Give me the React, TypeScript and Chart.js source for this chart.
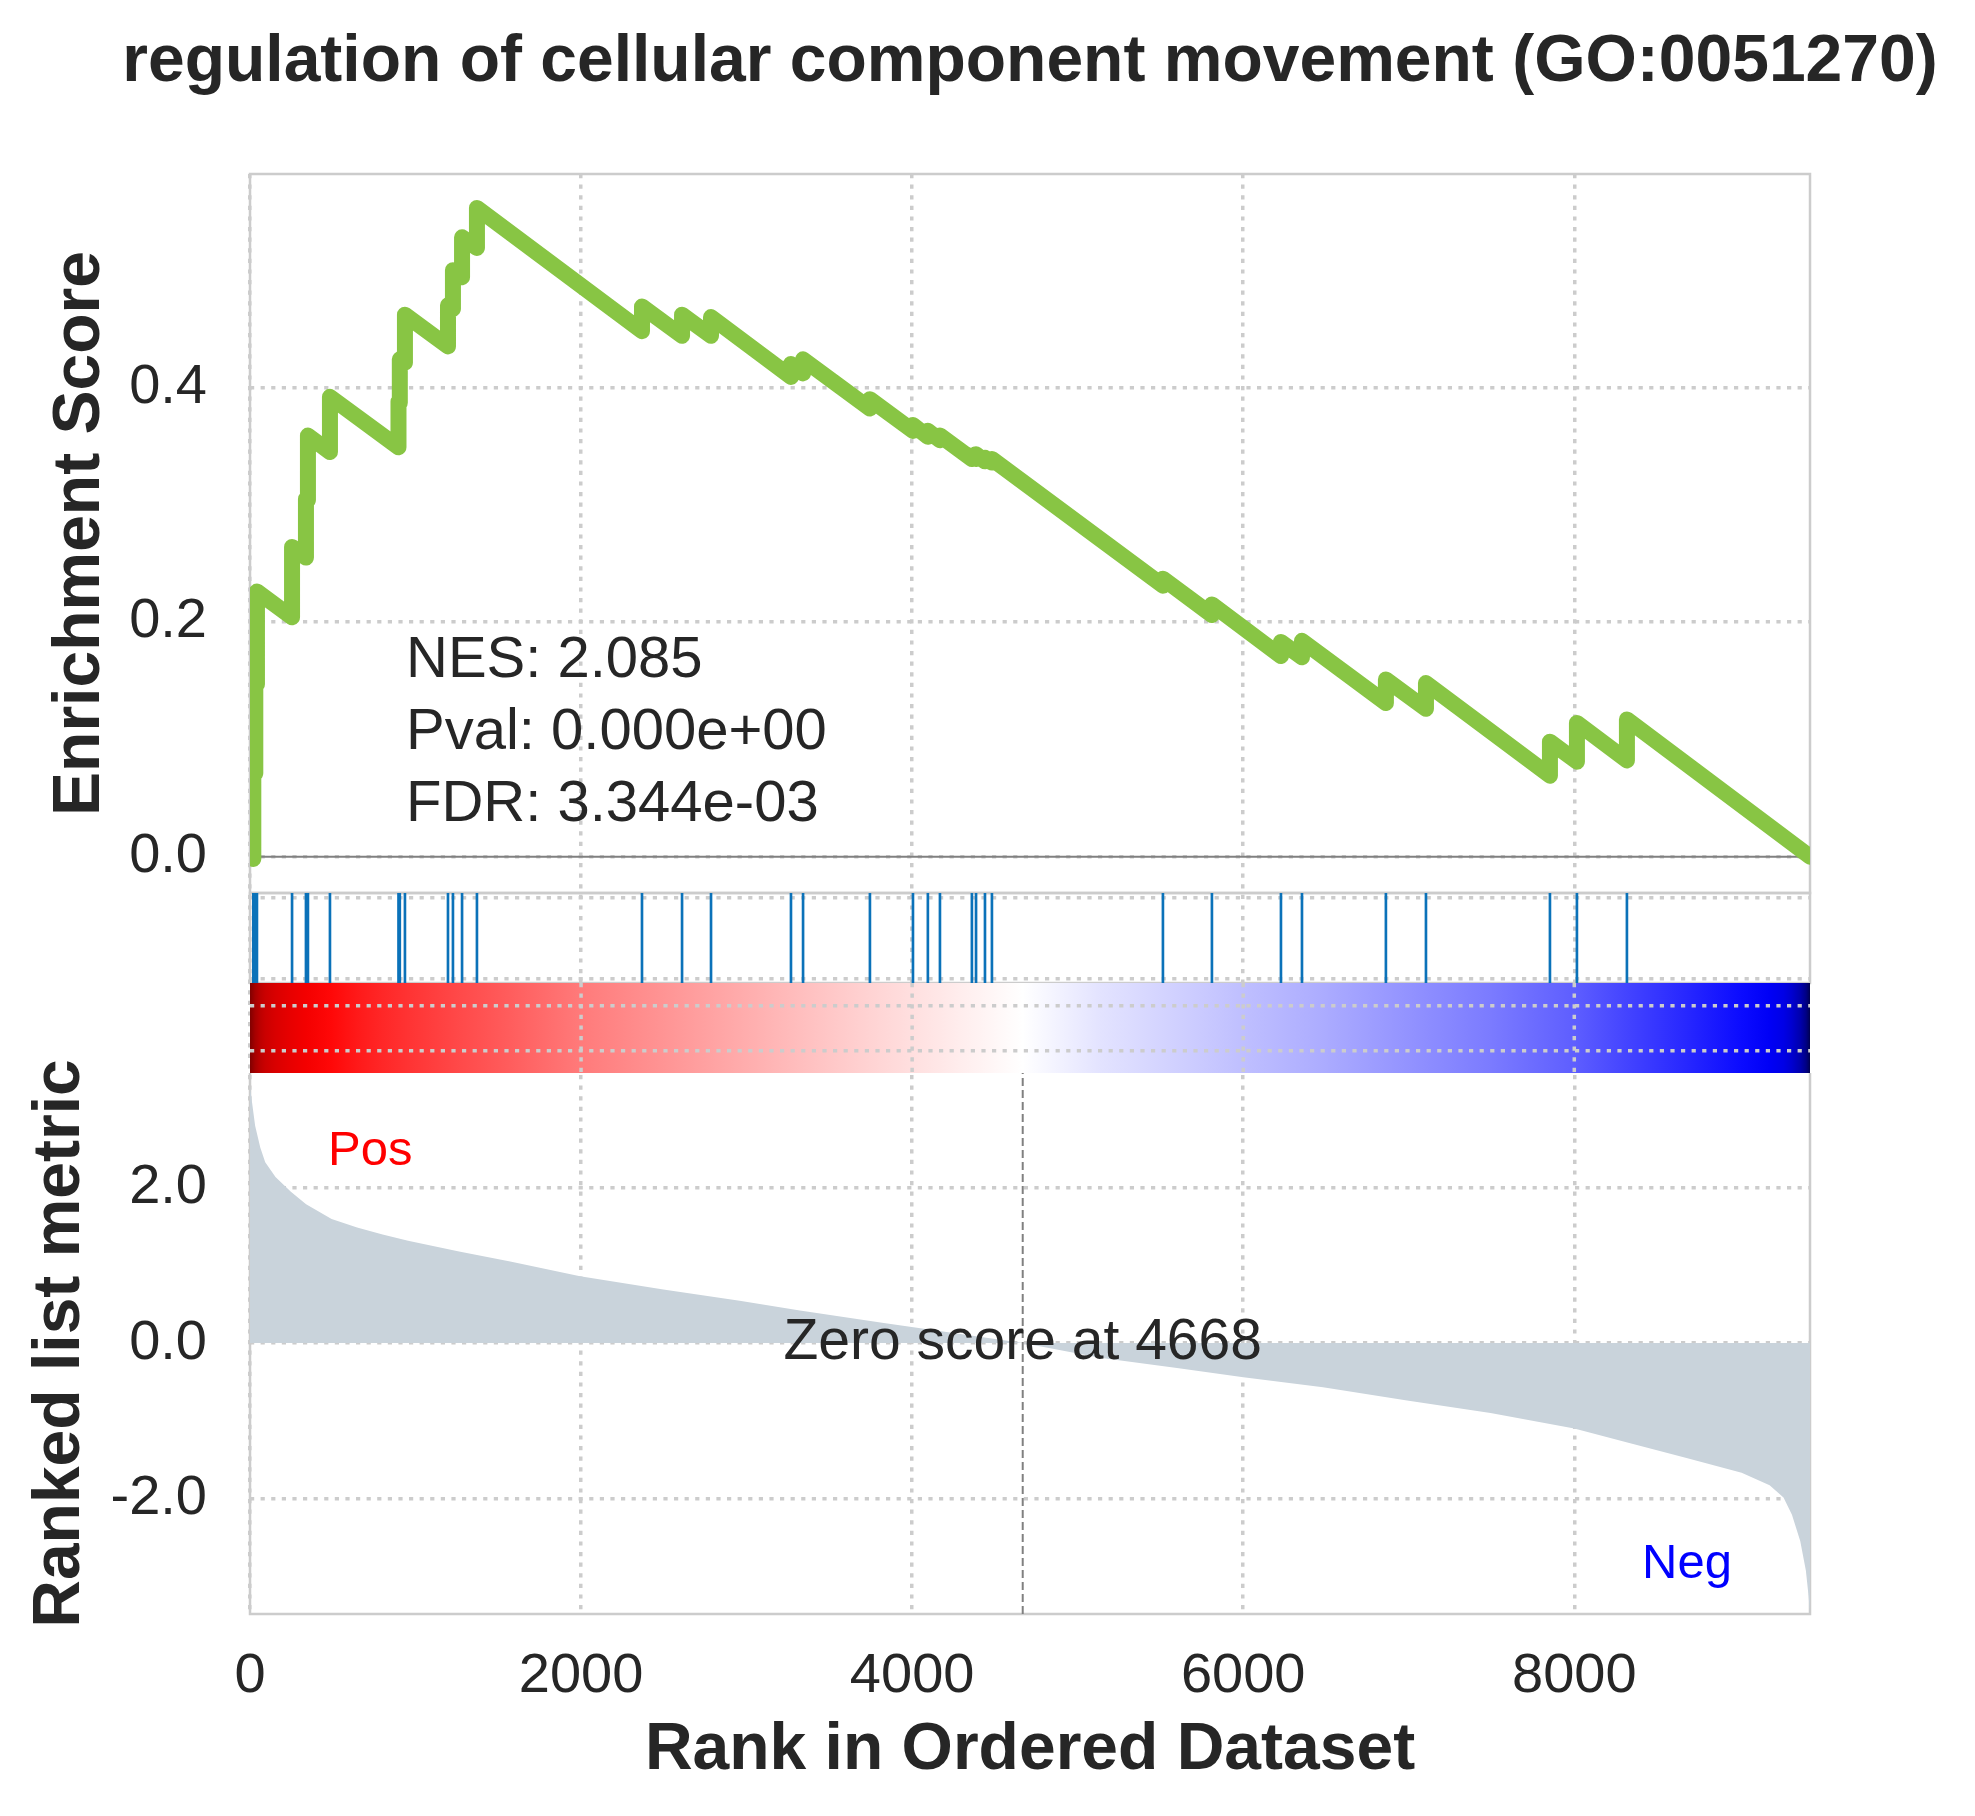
import { useEffect, useRef } from "react"
import { Chart, registerables } from "chart.js"

Chart.register(...registerables)

// ---- data ----
const title = "regulation of cellular component movement (GO:0051270)"
const nRanks = 9424
const zeroScoreAt = 4668
const statLines = ["NES: 2.085", "Pval: 0.000e+00", "FDR: 3.344e-03"]

// gene-set hits and the running enrichment score just before / after each hit
const hitRanks = [
	20, 32, 42, 254, 338, 350, 483, 897, 905, 936, 1196, 1226, 1281, 1371, 2368, 2610, 2785, 3268, 3341, 3745, 4005, 4095,
	4168, 4361, 4386, 4440, 4482, 5515, 5811, 6228, 6355, 6862, 7104, 7853, 8016, 8318
]
const esBefore = [
	-0.002, 0.071, 0.147, 0.204, 0.255, 0.304, 0.345, 0.349, 0.387, 0.421, 0.435, 0.467, 0.494, 0.519, 0.448, 0.444, 0.444,
	0.409, 0.412, 0.382, 0.363, 0.358, 0.355, 0.339, 0.339, 0.337, 0.336, 0.231, 0.206, 0.171, 0.17, 0.131, 0.126, 0.069, 0.081,
	0.082
]
const esAfter = [
	0.072, 0.148, 0.226, 0.264, 0.305, 0.359, 0.392, 0.388, 0.424, 0.462, 0.47, 0.5, 0.528, 0.553, 0.469, 0.462, 0.46, 0.42,
	0.424, 0.39, 0.368, 0.363, 0.359, 0.342, 0.343, 0.34, 0.339, 0.237, 0.215, 0.183, 0.184, 0.151, 0.148, 0.098, 0.114, 0.117
]
const esStart = 0
const esEnd = 0

// ranked list metric
const metricRanks = [
	0, 31, 62, 92, 154, 247, 339, 493, 647, 801, 955, 1263, 1572, 1994, 2497, 2958, 3322, 3829, 4250, 4668, 5135, 5600, 6001,
	6482, 6990, 7494, 8000, 8338, 8678, 9011, 9180, 9264, 9315, 9365, 9399, 9415, 9424
]
const metricValues = [
	3.3, 2.8, 2.52, 2.33, 2.14, 1.95, 1.79, 1.6, 1.49, 1.4, 1.32, 1.18, 1.05, 0.86, 0.69, 0.545, 0.42, 0.26, 0.13, 0.0, -0.19,
	-0.32, -0.44, -0.57, -0.74, -0.9, -1.1, -1.29, -1.48, -1.67, -1.83, -1.99, -2.21, -2.55, -2.93, -3.25, -3.49
]

const xTicks = [0, 2000, 4000, 6000, 8000]
const esTicks = [0, 0.2, 0.4]
const metricTicks = [-2, 0, 2]
const hitGrid = [0.05, 0.95]
const barGrid = [0.25, 0.75]

const esMin = -0.031
const esMax = 0.582
const metricMin = -3.49
const metricMax = 3.48

// ---- style ----
const FONT = "'Liberation Sans', Arial, Helvetica, sans-serif"
const INK = "#262626"
const GRID = "#cccccc"
const GRID_W = 3.5
const GRID_DASH = [4.2, 6.4]

const seismicStops = [
	[0, 0, 0, 0.3],
	[0.25, 0, 0, 1],
	[0.5, 1, 1, 1],
	[0.75, 1, 0, 0],
	[1, 0.5, 0, 0]
]

function seismic(v: number) {
	const lo = Math.min(...metricValues)
	const hi = Math.max(...metricValues)
	let t = v >= 0 ? 0.5 + (0.5 * v) / hi : 0.5 - (0.5 * v) / lo
	t = Math.min(1, Math.max(0, t))
	for (let i = 1; i < seismicStops.length; i++) {
		const a = seismicStops[i - 1]
		const b = seismicStops[i]
		if (t <= b[0]) {
			const f = (t - a[0]) / (b[0] - a[0])
			const c = [1, 2, 3].map((k) => Math.round(255 * (a[k] + (b[k] - a[k]) * f)))
			return `rgb(${c[0]},${c[1]},${c[2]})`
		}
	}
	return "rgb(128,0,0)"
}

const esPoints = [{ x: 0, y: esStart }]
hitRanks.forEach((r, i) => {
	esPoints.push({ x: r, y: esBefore[i] })
	esPoints.push({ x: r, y: esAfter[i] })
})
esPoints.push({ x: nRanks, y: esEnd })

const fixTicks = (values: number[]) => (scale: any) => {
	scale.ticks = values.map((value) => ({ value }))
}

const leftAxis = {
	position: "left",
	stack: "gsea",
	afterFit: (s: any) => {
		s.width = 250
	},
	border: { display: false, dash: GRID_DASH },
	grid: { color: GRID, lineWidth: GRID_W, drawTicks: false }
}

const panelFrames = {
	id: "panelFrames",
	beforeDatasetsDraw(chart: any) {
		const { ctx, chartArea: a, scales } = chart
		ctx.save()
		ctx.strokeStyle = GRID
		ctx.lineWidth = 2.5
		for (const id of ["yES", "yHits"]) {
			const s = scales[id]
			ctx.strokeRect(a.left, s.top, a.width, s.height)
		}
		const r = scales.yRank
		ctx.beginPath()
		ctx.moveTo(a.left, r.top)
		ctx.lineTo(a.left, r.bottom)
		ctx.lineTo(a.right, r.bottom)
		ctx.lineTo(a.right, r.top)
		ctx.stroke()
		ctx.restore()
	},
	afterDatasetsDraw(chart: any) {
		// vertical grid lines sit on top of the colour bar
		const { ctx, scales } = chart
		const cb = scales.yBar
		ctx.save()
		ctx.strokeStyle = GRID
		ctx.lineWidth = GRID_W
		ctx.setLineDash(GRID_DASH)
		for (const v of xTicks) {
			if (v <= 0) continue
			const px = scales.x.getPixelForValue(v)
			ctx.beginPath()
			ctx.moveTo(px, cb.top)
			ctx.lineTo(px, cb.bottom)
			ctx.stroke()
		}
		ctx.restore()
	}
}

const gseaText = {
	id: "gseaText",
	afterDraw(chart: any) {
		const { ctx, chartArea: a, scales } = chart
		const es = scales.yES
		const rk = scales.yRank
		ctx.save()
		ctx.textBaseline = "alphabetic"

		// title, centred over the plotting area and allowed to overflow it
		ctx.fillStyle = INK
		ctx.textAlign = "center"
		ctx.font = `bold 66px ${FONT}`
		ctx.fillText(title, (a.left + a.right) / 2, a.top - 93)

		ctx.textAlign = "left"
		ctx.font = `58px ${FONT}`
		statLines.forEach((s, i) => {
			ctx.fillText(s, a.left + 0.1 * a.width, es.bottom - (0.3 - 0.1 * i) * es.height)
		})

		ctx.font = `57px ${FONT}`
		ctx.textAlign = "center"
		ctx.fillText(`Zero score at ${zeroScoreAt}`, scales.x.getPixelForValue(zeroScoreAt), rk.top + 0.528 * rk.height)

		ctx.font = `49px ${FONT}`
		ctx.fillStyle = "red"
		ctx.textAlign = "left"
		ctx.fillText("Pos", a.left + 0.05 * a.width, rk.top + 0.17 * rk.height)
		ctx.fillStyle = "blue"
		ctx.textAlign = "right"
		ctx.fillText("Neg", a.left + 0.95 * a.width, rk.bottom - 0.067 * rk.height)

		ctx.fillStyle = INK
		ctx.font = `bold 66px ${FONT}`
		ctx.textAlign = "center"
		const vTitle = (text: string, bx: number, cy: number) => {
			ctx.save()
			ctx.translate(bx, cy)
			ctx.rotate(-Math.PI / 2)
			ctx.fillText(text, 0, 0)
			ctx.restore()
		}
		vTitle("Enrichment Score", a.left - 151, (es.top + es.bottom) / 2)
		vTitle("Ranked list metric", a.left - 171, (rk.top + rk.bottom) / 2)
		ctx.restore()
	}
}

export default function App() {
	const canvasRef = useRef<HTMLCanvasElement>(null)

	useEffect(() => {
		const ctx = canvasRef.current?.getContext("2d") as CanvasRenderingContext2D
		const chart = new Chart(ctx, {
			type: "line",
			data: {
				datasets: [
					{
						label: "Enrichment score",
						data: esPoints,
						yAxisID: "yES",
						borderColor: "#88C544",
						borderWidth: 16,
						borderCapStyle: "round",
						borderJoinStyle: "round",
						pointRadius: 0,
						tension: 0,
						clip: 0
					},
					{
						label: "zero",
						data: [
							{ x: 0, y: 0 },
							{ x: nRanks, y: 0 }
						],
						yAxisID: "yES",
						borderColor: "#808080",
						borderWidth: 2,
						pointRadius: 0
					},
					{
						type: "bar",
						label: "hits",
						data: hitRanks.map((r) => ({ x: r, y: [0, 1] })),
						yAxisID: "yHits",
						backgroundColor: "#0b72b9",
						barThickness: 2,
						grouped: false
					},
					{
						label: "colour bar",
						data: metricRanks.map((r) => ({ x: r, y: 1 })),
						yAxisID: "yBar",
						borderColor: "rgba(0,0,0,0)",
						borderWidth: 0,
						pointRadius: 0,
						fill: "start",
						backgroundColor: (c: any) => {
							const ch = c.chart
							const area = ch.chartArea
							if (!area) return "rgba(0,0,0,0)"
							const xs = ch.scales.x
							const g = ch.ctx.createLinearGradient(area.left, 0, area.right, 0)
							metricRanks.forEach((r, i) => {
								const p = (xs.getPixelForValue(r) - area.left) / area.width
								g.addColorStop(Math.min(1, Math.max(0, p)), seismic(metricValues[i]))
							})
							return g
						}
					},
					{
						label: "zero score",
						data: [
							{ x: zeroScoreAt, y: metricMin },
							{ x: zeroScoreAt, y: metricMax }
						],
						yAxisID: "yRank",
						borderColor: "#808080",
						borderWidth: 2,
						borderDash: [8, 4],
						pointRadius: 0
					},
					{
						label: "metric",
						data: metricRanks.map((r, i) => ({ x: r, y: metricValues[i] })),
						yAxisID: "yRank",
						borderColor: "rgba(0,0,0,0)",
						borderWidth: 0,
						pointRadius: 0,
						tension: 0,
						fill: "origin",
						backgroundColor: "#C9D3DB"
					}
				]
			},
			options: {
				animation: false,
				responsive: true,
				maintainAspectRatio: false,
				events: [],
				layout: { padding: { left: 0, right: 165, top: 174, bottom: 0 } },
				plugins: {
					legend: { display: false },
					tooltip: { enabled: false },
					title: { display: false }
				},
				scales: {
					x: {
						type: "linear",
						min: 0,
						max: nRanks,
						offset: false,
						afterBuildTicks: fixTicks(xTicks),
						afterFit: (s: any) => {
							s.height = 202
						},
						border: { display: false, dash: GRID_DASH },
						grid: { color: GRID, lineWidth: GRID_W, drawTicks: false, offset: false },
						ticks: {
							color: INK,
							font: { family: FONT, size: 56 },
							padding: 29,
							maxRotation: 0,
							autoSkip: false,
							callback: (v: any) => String(v)
						},
						title: {
							display: true,
							text: "Rank in Ordered Dataset",
							color: INK,
							font: { family: FONT, size: 66, weight: "bold", lineHeight: 1.2 },
							padding: { top: 0, bottom: 26 }
						}
					},
					yRank: {
						...leftAxis,
						type: "linear",
						weight: 1,
						stackWeight: 541,
						min: metricMin,
						max: metricMax,
						afterBuildTicks: fixTicks(metricTicks),
						ticks: {
							color: INK,
							font: { family: FONT, size: 56 },
							padding: 43,
							callback: (v: any) => Number(v).toFixed(1)
						}
					},
					yBar: {
						...leftAxis,
						type: "linear",
						weight: 2,
						stackWeight: 90,
						min: 0,
						max: 1,
						afterBuildTicks: fixTicks(barGrid),
						grid: { color: GRID, lineWidth: GRID_W, drawTicks: false, z: 1 },
						ticks: { display: false }
					},
					yHits: {
						...leftAxis,
						type: "linear",
						weight: 3,
						stackWeight: 90,
						min: 0,
						max: 1,
						afterBuildTicks: fixTicks(hitGrid),
						ticks: { display: false }
					},
					yES: {
						...leftAxis,
						type: "linear",
						weight: 4,
						stackWeight: 719,
						min: esMin,
						max: esMax,
						afterBuildTicks: fixTicks(esTicks),
						ticks: {
							color: INK,
							font: { family: FONT, size: 56 },
							padding: 43,
							callback: (v: any) => Number(v).toFixed(1)
						}
					}
				}
			} as any,
			plugins: [panelFrames, gseaText]
		} as any)

		return () => {
			chart.destroy()
		}
	}, [])

	return (
		<div style={{ position: "absolute", left: 0, top: 0, width: 1975, height: 1816, background: "#fff" }}>
			<canvas ref={canvasRef}>Your browser does not support the canvas element.</canvas>
		</div>
	)
}
